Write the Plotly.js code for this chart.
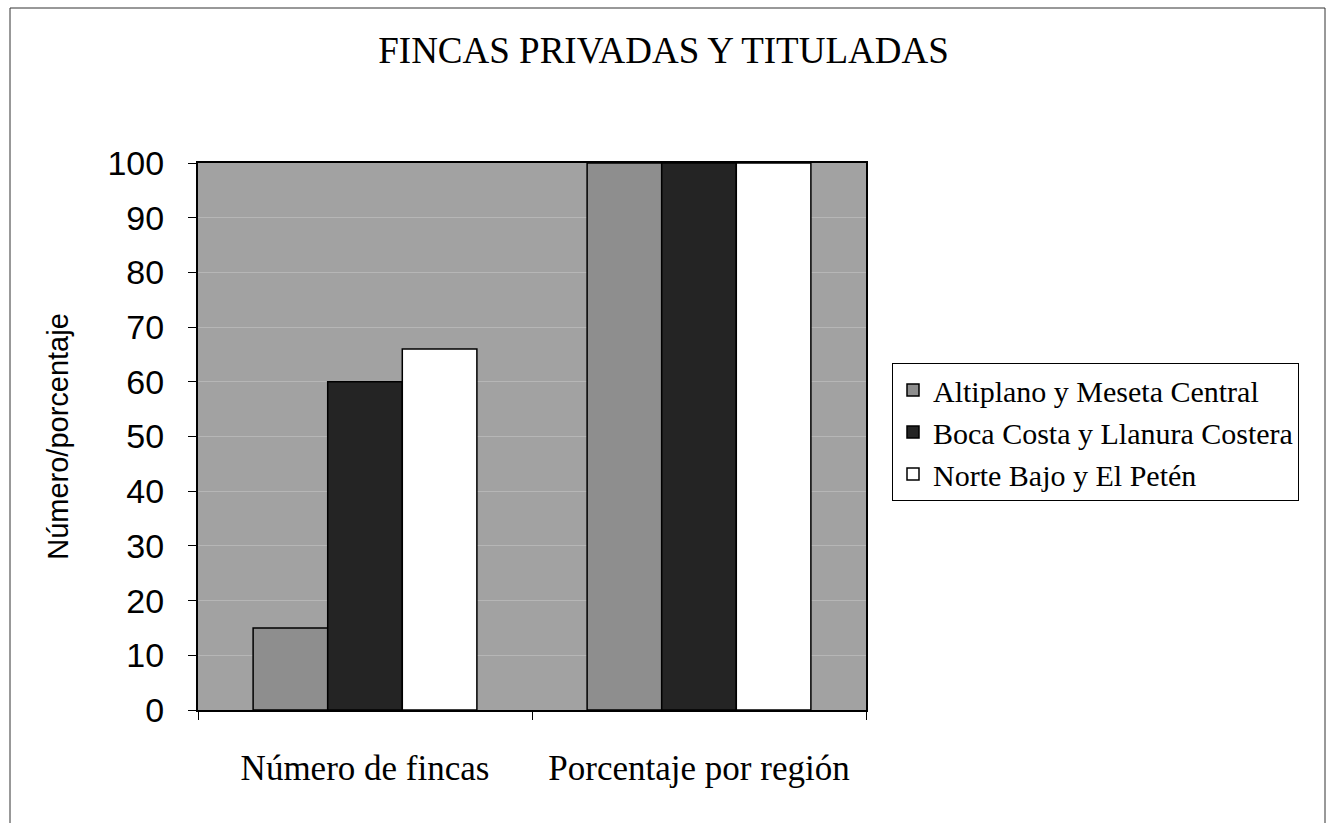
<!DOCTYPE html>
<html>
<head>
<meta charset="utf-8">
<script src="https://cdn.plot.ly/plotly-3.0.1.min.js"></script>
<style>html,body{margin:0;padding:0;background:#fff;}#chart{width:1327px;height:823px;}</style>
</head>
<body>
<div id="chart"></div>
<script>
const categories = ["Número de fincas", "Porcentaje por región"];
const seriesNames = ["Altiplano y Meseta Central", "Boca Costa y Llanura Costera", "Norte Bajo y El Petén"];
const altiplano = [15, 100];
const bocaCosta = [60, 100];
const norteBajo = [66, 100];
const yTicks = [0, 10, 20, 30, 40, 50, 60, 70, 80, 90, 100];

const colors = ["#8e8e8e", "#242424", "#ffffff"];
const values = [altiplano, bocaCosta, norteBajo];

const traces = values.map((v, i) => ({
  type: "bar",
  name: seriesNames[i],
  x: categories,
  y: v,
  legendgroup: "g" + i,
  marker: {color: colors[i], line: {color: "#000", width: 1.5}},
  hoverinfo: "x+y+name"
}));

const W = 1327, H = 823, L = 198, R = 866, T = 163, B = 710;
const px = x => (x - L) / (R - L);
const py = y => (B - y) / (B - T);

const layout = {
  width: W, height: H,
  margin: {l: L, r: W - R, t: T, b: H - B, pad: 0},
  paper_bgcolor: "#ffffff",
  plot_bgcolor: "#a2a2a2",
  barmode: "group",
  bargap: 0.33,
  bargroupgap: 0,
  title: {
    text: "FINCAS PRIVADAS Y TITULADAS",
    font: {family: "Liberation Serif, Times New Roman, serif", size: 37, color: "#000"},
    x: 0.5, xref: "container", xanchor: "center",
    y: 1 - 50 / H, yref: "container", yanchor: "middle"
  },
  xaxis: {
    type: "category",
    showgrid: false,
    ticks: "outside",
    tickson: "boundaries",
    ticklen: 8,
    tickcolor: "#000",
    tickfont: {family: "Liberation Serif, Times New Roman, serif", size: 35, color: "#000"},
    ticklabelstandoff: 26,
    showline: true, linecolor: "#000", linewidth: 2, mirror: true,
    zeroline: false
  },
  yaxis: {
    range: [0, 100],
    tickvals: yTicks,
    ticktext: yTicks.map(String),
    ticks: "outside",
    ticklen: 8,
    tickcolor: "#000",
    tickfont: {family: "Liberation Sans, Arial, sans-serif", size: 34, color: "#000"},
    ticklabelstandoff: 17,
    showgrid: true, gridcolor: "#b6b6b6", gridwidth: 1,
    showline: true, linecolor: "#000", linewidth: 2, mirror: true,
    zeroline: false,
    title: {
      text: "Número/porcentaje",
      font: {family: "Liberation Sans, Arial, sans-serif", size: 29, color: "#000"},
      standoff: 30
    }
  },
  legend: {
    x: px(892), xanchor: "left",
    y: py(363), yanchor: "top",
    bgcolor: "#ffffff",
    bordercolor: "#000", borderwidth: 1,
    font: {family: "Liberation Serif, Times New Roman, serif", size: 30, color: "#000"},
    tracegroupgap: 1,
    itemwidth: 30,
    traceorder: "normal"
  },
  shapes: [{
    type: "rect", xref: "paper", yref: "paper",
    x0: px(10), x1: px(1325), y0: py(840), y1: py(8),
    line: {color: "#333", width: 1}, fillcolor: "rgba(0,0,0,0)", layer: "below"
  }],
  showlegend: true
};

Plotly.newPlot("chart", traces, layout, {displayModeBar: false, staticPlot: true});
</script>
</body>
</html>
